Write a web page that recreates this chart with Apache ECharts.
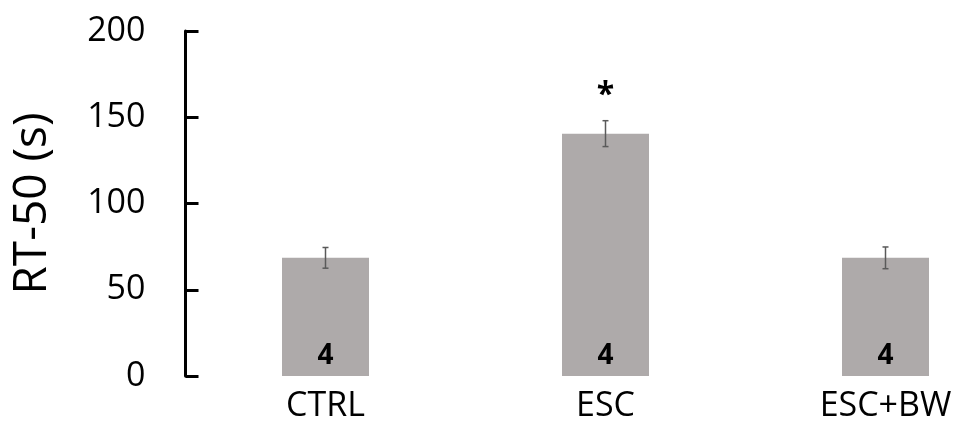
<!DOCTYPE html>
<html>
<head>
<meta charset="utf-8">
<script src="https://cdn.jsdelivr.net/npm/echarts@6/dist/echarts.min.js"></script>
<style>
  html, body { margin: 0; padding: 0; background: #fff; }
  #chart { width: 956px; height: 427px; }
</style>
</head>
<body>
<div id="chart"></div>
<script>
// Group names, mean RT-50 values, SEM and per-group sample sizes
const categories = ['CTRL', 'ESC', 'ESC+BW'];
const means = [68.5, 140.5, 68.5];
const sems = [6, 7.5, 6.3];
const sampleSizes = ['4', '4', '4'];
const sigMarks = ['', '*', ''];
const yTicks = [0, 50, 100, 150, 200];

const FONT = '"Open Sans", "Noto Sans", sans-serif';

const chart = echarts.init(document.getElementById('chart'), null, { renderer: 'canvas' });

const errorData = categories.map((c, i) => [i, means[i] - sems[i], means[i] + sems[i], sigMarks[i]]);

chart.setOption({
  animation: false,
  backgroundColor: '#ffffff',
  // grid spans bar centre to bar centre; the y axis is pushed out to the left
  grid: { left: 325.5, right: 70.5, top: 31, bottom: 51, containLabel: false },
  xAxis: {
    type: 'category',
    data: categories,
    boundaryGap: false,
    axisLine: { show: false },
    axisTick: { show: false },
    axisLabel: { color: '#000', fontFamily: FONT, fontSize: 34, margin: 13 }
  },
  yAxis: {
    type: 'value',
    offset: 140,
    min: yTicks[0],
    max: yTicks[yTicks.length - 1],
    interval: 50,
    name: 'RT-50 (s)',
    nameLocation: 'middle',
    nameGap: 130,
    nameRotate: 90,
    nameTextStyle: { color: '#000', fontFamily: FONT, fontSize: 46 },
    splitLine: { show: false },
    axisLine: { show: true, lineStyle: { color: '#000', width: 3 } },
    axisTick: { show: true, inside: true, length: 13, lineStyle: { color: '#000', width: 3 } },
    axisLabel: { color: '#000', fontFamily: FONT, fontSize: 34, margin: 40 }
  },
  series: [
    {
      type: 'bar',
      data: means,
      barWidth: 87,
      clip: false,
      itemStyle: { color: '#aeaaaa' },
      label: {
        show: true,
        position: 'insideBottom',
        distance: 6,
        color: '#000',
        fontFamily: FONT,
        fontWeight: 'bold',
        fontSize: 28,
        formatter: p => sampleSizes[p.dataIndex]
      },
      z: 2
    },
    {
      type: 'custom',
      data: errorData,
      clip: false,
      z: 3,
      renderItem: (params, api) => {
        const x = api.coord([api.value(0), 0])[0];
        const lo = api.coord([api.value(0), api.value(1)])[1];
        const hi = api.coord([api.value(0), api.value(2)])[1];
        const cap = 3;
        const style = { stroke: '#5a5a5a', lineWidth: 1.5 };
        const children = [
          { type: 'line', shape: { x1: x, y1: lo, x2: x, y2: hi }, style },
          { type: 'line', shape: { x1: x - cap, y1: lo, x2: x + cap, y2: lo }, style },
          { type: 'line', shape: { x1: x - cap, y1: hi, x2: x + cap, y2: hi }, style }
        ];
        const mark = errorData[params.dataIndex][3];
        if (mark) {
          children.push({
            type: 'text',
            style: {
              text: mark, x: x, y: hi - 9,
              fill: '#000', font: 'bold 32px ' + FONT,
              textAlign: 'center', textVerticalAlign: 'bottom'
            }
          });
        }
        return { type: 'group', children };
      }
    }
  ]
});
</script>
</body>
</html>
